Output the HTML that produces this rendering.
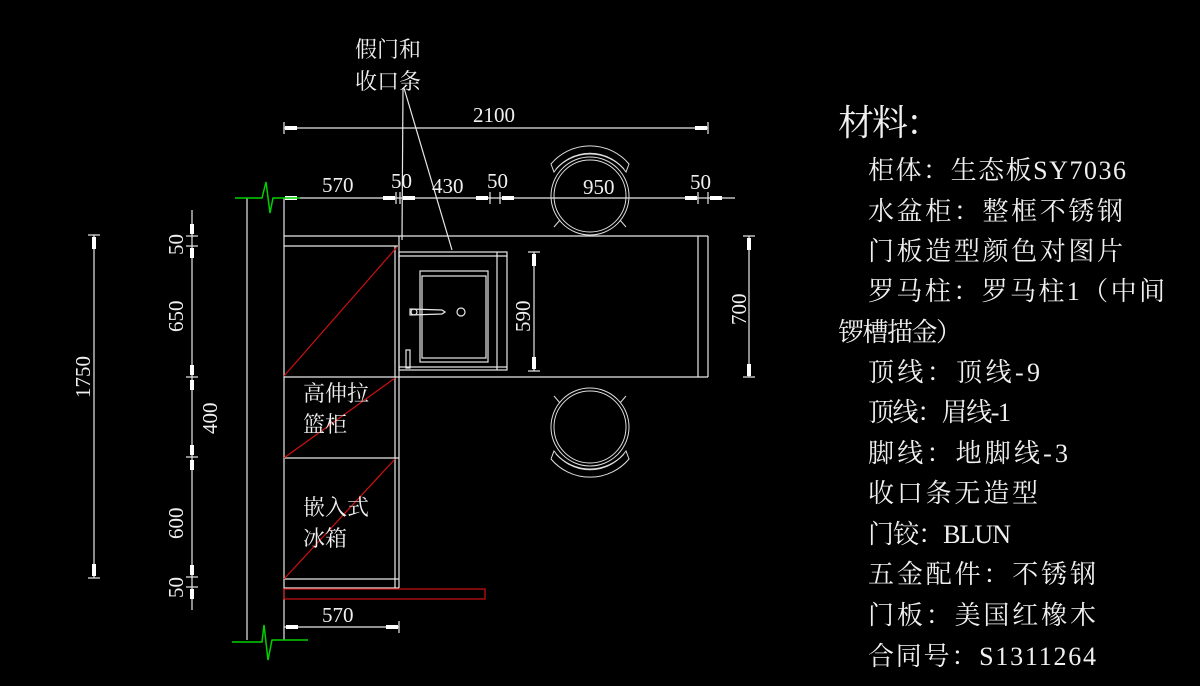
<!DOCTYPE html>
<html><head><meta charset="utf-8"><style>
html,body{margin:0;padding:0;background:#000;width:1200px;height:686px;overflow:hidden}
svg{display:block}
.t{font-family:"Liberation Serif","Noto Serif CJK SC",serif;fill:#f0f0f0}
</style></head><body>
<svg width="1200" height="686" viewBox="0 0 1200 686" xmlns="http://www.w3.org/2000/svg">
<defs>
<g id="chair" fill="none" stroke="#ddd" stroke-width="1">
<circle r="39"/><circle r="36"/>
<path d="M-36,-24 A44,44 0 0 1 36,-24 L39,-32 A51,51 0 0 0 -39,-32 Z"/>
<path d="M-34,-27 A46,46 0 0 1 34,-27"/>
<path d="M-30,24 L-36,31 M30,24 L36,31"/>
</g>
</defs>
<g stroke="#e8e8e8" stroke-width="1.2" fill="none">
<line x1="247" y1="198" x2="247" y2="640"/>
<line x1="284" y1="198" x2="284" y2="640"/>
<line x1="284" y1="128" x2="708" y2="128"/>
<line x1="284" y1="122" x2="284" y2="134"/><line x1="708" y1="122" x2="708" y2="134"/>
<line x1="284" y1="198" x2="735" y2="198"/>
<line x1="396" y1="192" x2="396" y2="204"/><line x1="400" y1="192" x2="400" y2="204"/>
<line x1="490" y1="192" x2="490" y2="204"/><line x1="500" y1="192" x2="500" y2="204"/>
<line x1="698" y1="192" x2="698" y2="204"/><line x1="708" y1="192" x2="708" y2="204"/>
<line x1="284" y1="236" x2="708" y2="236"/>
<line x1="284" y1="246" x2="398" y2="246"/>
<line x1="395" y1="246" x2="395" y2="588"/>
<line x1="399" y1="236" x2="399" y2="588"/>
<line x1="284" y1="377" x2="708" y2="377"/>
<line x1="284" y1="458" x2="399" y2="458"/>
<line x1="284" y1="579" x2="399" y2="579"/>
<line x1="284" y1="588" x2="399" y2="588"/>
<line x1="708" y1="236" x2="708" y2="377"/>
<line x1="698" y1="236" x2="698" y2="377"/>
<rect x="399" y="252" width="108" height="118"/>
<line x1="399" y1="256" x2="507" y2="256"/>
<line x1="399" y1="367" x2="507" y2="367"/>
<line x1="497" y1="252" x2="497" y2="370"/>
<rect x="420" y="271" width="68" height="91"/>
<rect x="422" y="276" width="64" height="82"/>
<rect x="406" y="350" width="4" height="18"/>
<circle cx="461" cy="312" r="4"/>
<path d="M410,309 L442,310 L445,312 L442,314 L410,315 Z"/>
<circle cx="414" cy="312" r="3"/>
<line x1="403" y1="88" x2="402" y2="240"/>
<line x1="404" y1="88" x2="452" y2="250"/>
<line x1="749" y1="236" x2="749" y2="377"/>
<line x1="743" y1="236" x2="755" y2="236"/><line x1="743" y1="377" x2="755" y2="377"/>
<line x1="534" y1="252" x2="534" y2="371"/>
<line x1="528" y1="252" x2="540" y2="252"/><line x1="528" y1="371" x2="540" y2="371"/>
<line x1="94" y1="235" x2="94" y2="578"/>
<line x1="88" y1="235" x2="100" y2="235"/><line x1="88" y1="578" x2="100" y2="578"/>
<line x1="192" y1="210" x2="192" y2="610"/>
<line x1="186" y1="236" x2="198" y2="236"/><line x1="186" y1="246" x2="198" y2="246"/>
<line x1="186" y1="377" x2="198" y2="377"/><line x1="186" y1="457" x2="198" y2="457"/>
<line x1="186" y1="577" x2="198" y2="577"/><line x1="186" y1="587" x2="198" y2="587"/>
<line x1="284" y1="627" x2="399" y2="627"/>
<line x1="399" y1="621" x2="399" y2="633"/>
</g>
<g fill="#fff">
<rect x="285" y="196" width="12" height="4"/><rect x="383" y="196" width="12" height="4"/><rect x="403" y="196" width="12" height="4"/>
<rect x="476" y="196" width="12" height="4"/><rect x="502" y="196" width="12" height="4"/>
<rect x="685" y="196" width="12" height="4"/><rect x="710" y="196" width="12" height="4"/>
<rect x="695" y="126" width="12" height="4"/><rect x="285" y="126" width="12" height="4"/>
<rect x="92" y="237" width="4" height="12"/><rect x="92" y="564" width="4" height="12"/>
<rect x="747" y="238" width="4" height="12"/><rect x="747" y="364" width="4" height="12"/>
<rect x="532" y="254" width="4" height="12"/><rect x="532" y="357" width="4" height="12"/>
<rect x="190" y="224" width="4" height="10"/><rect x="190" y="248" width="4" height="10"/>
<rect x="190" y="365" width="4" height="10"/><rect x="190" y="380" width="4" height="10"/>
<rect x="190" y="445" width="4" height="10"/><rect x="190" y="460" width="4" height="10"/>
<rect x="190" y="565" width="4" height="10"/><rect x="190" y="589" width="4" height="10"/>
<rect x="286" y="625" width="12" height="4"/><rect x="386" y="625" width="12" height="4"/>
</g>
<g stroke="#d01010" stroke-width="1.2" fill="none">
<line x1="284" y1="376" x2="397" y2="247"/>
<line x1="284" y1="458" x2="395" y2="378"/>
<line x1="284" y1="579" x2="395" y2="459"/>
<rect x="284" y="589" width="201" height="10"/>
</g>
<g stroke="#00d000" stroke-width="1.5" fill="none">
<polyline points="235,198 262,198 266,182 270,213 273,198 300,198"/>
<polyline points="232,642 262,642 264,625 268,660 272,640 308,640"/>
</g>
<use href="#chair" transform="translate(590,196)"/>
<use href="#chair" transform="translate(590,427) scale(1,-1)"/>
<g class="t" font-size="21">
<text x="322" y="192">570</text><text x="391" y="188">50</text><text x="432" y="193">430</text>
<text x="487" y="188">50</text><text x="583" y="194">950</text><text x="690" y="189">50</text>
<text x="473" y="122">2100</text><text x="322" y="622">570</text>
<text transform="translate(90,398) rotate(-90)">1750</text>
<text transform="translate(183,255) rotate(-90)">50</text>
<text transform="translate(183,332) rotate(-90)">650</text>
<text transform="translate(217,434) rotate(-90)">400</text>
<text transform="translate(183,539) rotate(-90)">600</text>
<text transform="translate(183,598) rotate(-90)">50</text>
<text transform="translate(530,332) rotate(-90)">590</text>
<text transform="translate(746,325) rotate(-90)">700</text>
</g>
<g class="t" font-size="22">
<text x="355" y="57">假门和</text><text x="355" y="89">收口条</text>
<text x="303" y="401">高伸拉</text><text x="303" y="432">篮柜</text>
<text x="303" y="515">嵌入式</text><text x="303" y="546">冰箱</text>
</g>
<g class="t" font-size="36"><text x="838" y="135" textLength="104">材料：</text></g>
<g class="t" font-size="26">
<text x="868" y="179" textLength="258">柜体：生态板SY7036</text>
<text x="868" y="220" textLength="255">水盆柜：整框不锈钢</text>
<text x="868" y="260" textLength="255">门板造型颜色对图片</text>
<text x="868" y="300" textLength="297">罗马柱：罗马柱1（中间</text>
<text x="838" y="341" textLength="124">锣槽描金）</text>
<text x="868" y="381" textLength="172">顶线：顶线-9</text>
<text x="868" y="421" textLength="143">顶线：眉线-1</text>
<text x="868" y="462" textLength="200">脚线：地脚线-3</text>
<text x="868" y="502" textLength="170">收口条无造型</text>
<text x="868" y="543" textLength="143">门铰：BLUN</text>
<text x="868" y="583" textLength="228">五金配件：不锈钢</text>
<text x="868" y="624" textLength="228">门板：美国红橡木</text>
<text x="868" y="665" textLength="228">合同号：S1311264</text>
</g>
</svg>
</body></html>
